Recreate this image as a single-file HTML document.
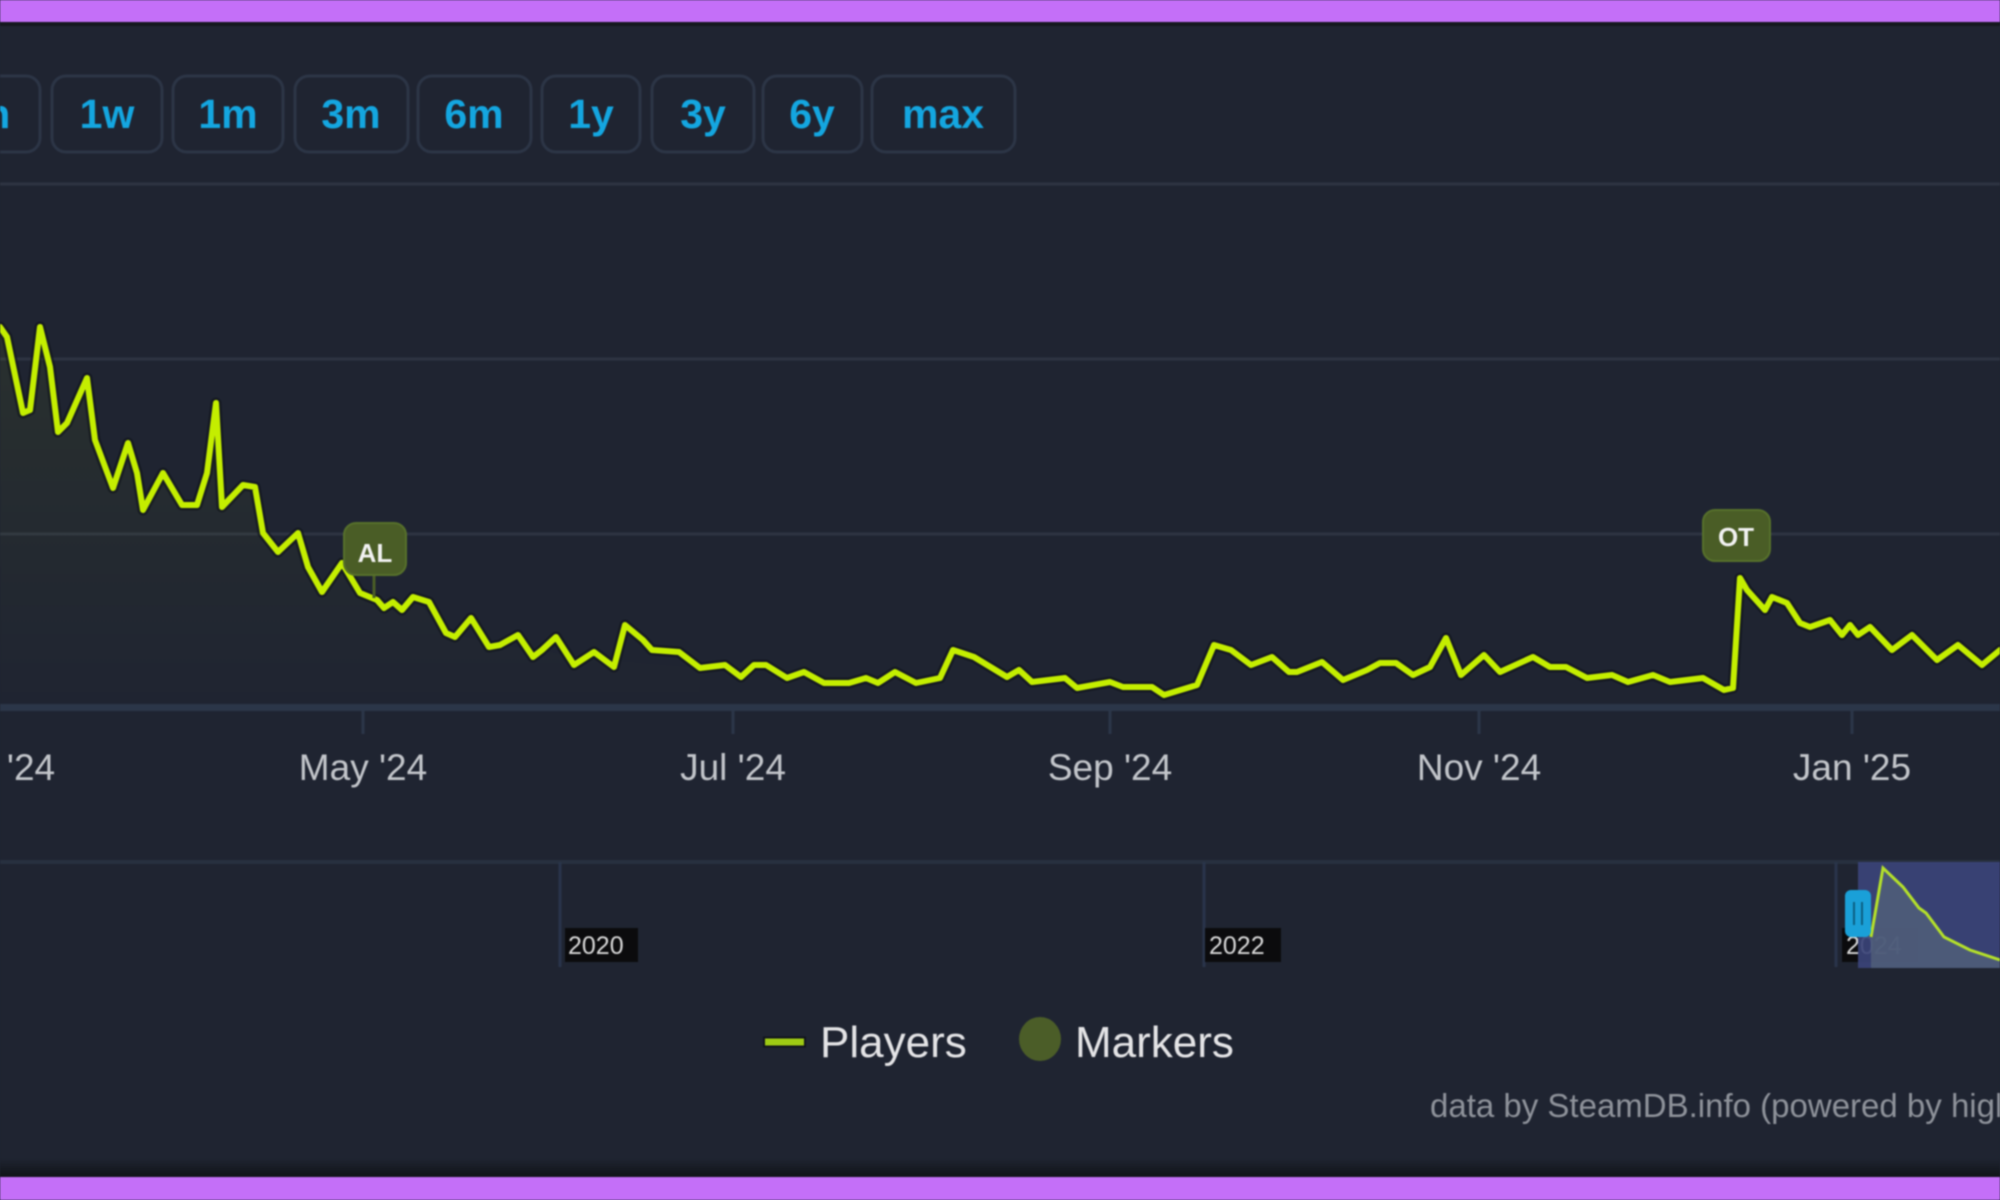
<!DOCTYPE html>
<html><head><meta charset="utf-8"><style>
html,body{margin:0;padding:0;background:#1f2431;}
svg{display:block;filter:blur(0.7px)}
text{font-family:"Liberation Sans",Arial,sans-serif}
</style></head><body>
<svg width="2000" height="1200" viewBox="0 0 2000 1200" xmlns="http://www.w3.org/2000/svg">
<defs>
<linearGradient id="af" x1="0" y1="0" x2="0" y2="1">
<stop offset="0" stop-color="#c4ee00" stop-opacity="0.06"/>
<stop offset="1" stop-color="#c4ee00" stop-opacity="0"/>
</linearGradient>
<linearGradient id="bot" x1="0" y1="0" x2="0" y2="1">
<stop offset="0" stop-color="#1f2431"/>
<stop offset="1" stop-color="#0f1216"/>
</linearGradient>
</defs>
<rect x="0" y="0" width="2000" height="1200" fill="#1f2431"/>
<rect x="0" y="0" width="2000" height="22" fill="#c46ff8"/>
<rect x="0" y="22" width="2000" height="4" fill="#14181e"/>
<rect x="0" y="1158" width="2000" height="20" fill="url(#bot)"/>
<rect x="0" y="1177" width="2000" height="23" fill="#c46ff8"/>

<g fill="#1f2431" stroke="#2c3546" stroke-width="3">
<rect x="-90" y="76" width="130" height="76" rx="14"/>
<rect x="52" y="76" width="110" height="76" rx="14"/>
<rect x="173" y="76" width="110" height="76" rx="14"/>
<rect x="295" y="76" width="113" height="76" rx="14"/>
<rect x="418" y="76" width="113" height="76" rx="14"/>
<rect x="542" y="76" width="98" height="76" rx="14"/>
<rect x="652" y="76" width="102" height="76" rx="14"/>
<rect x="763" y="76" width="99" height="76" rx="14"/>
<rect x="872" y="76" width="143" height="76" rx="14"/>
</g>
<g fill="#14a6e0" font-size="41" font-weight="bold" text-anchor="middle">
<text x="-25" y="128">48h</text>
<text x="107" y="128">1w</text>
<text x="228" y="128">1m</text>
<text x="351" y="128">3m</text>
<text x="474" y="128">6m</text>
<text x="591" y="128">1y</text>
<text x="703" y="128">3y</text>
<text x="812" y="128">6y</text>
<text x="943" y="128">max</text>
</g>

<g stroke="#2e3442" stroke-width="3">
<line x1="0" y1="184" x2="2000" y2="184"/>
<line x1="0" y1="359" x2="2000" y2="359"/>
<line x1="0" y1="534" x2="2000" y2="534"/>
</g>

<path fill="url(#af)" d="M0,327 L7,337 L23,413 L30,410 L40,327 L50,367 L58,432 L67,423 L87,378 L95,440 L113,488 L128,443 L137,473 L143,510 L163,473 L182,505 L197,505 L207,473 L216,403 L222,507 L243,485 L255,487 L263,533 L278,552 L298,533 L308,567 L322,592 L342,563 L360,593 L377,600 L393,602 L413,597 L446,633 L500,645 L600,660 L700,668 L700,707 L0,707 Z"/>

<rect x="0" y="704" width="2000" height="7" fill="#2b3649"/>
<g stroke="#2b3649" stroke-width="3">
<line x1="363" y1="711" x2="363" y2="734"/>
<line x1="733" y1="711" x2="733" y2="734"/>
<line x1="1110" y1="711" x2="1110" y2="734"/>
<line x1="1479" y1="711" x2="1479" y2="734"/>
<line x1="1852" y1="711" x2="1852" y2="734"/>
</g>
<g fill="#c2c5ca" font-size="37" text-anchor="middle">
<text x="-6" y="780">Mar '24</text>
<text x="363" y="780">May '24</text>
<text x="733" y="780">Jul '24</text>
<text x="1110" y="780">Sep '24</text>
<text x="1479" y="780">Nov '24</text>
<text x="1852" y="780">Jan '25</text>
</g>

<g fill="none" stroke-linejoin="round" stroke-linecap="round">
<polyline stroke="#0d1018" stroke-opacity="0.55" stroke-width="11" points="0,327 7,337 23,413 30,410 40,327 50,367 58,432 67,423 87,378 95,440 113,488 128,443 137,473 143,510 163,473 182,505 197,505 207,473 216,403 222,507 243,485 255,487 263,533 278,552 298,533 308,567 322,592 342,563 360,593 377,600 384,608 393,602 402,610 413,597 429,602 446,633 455,637 471,618 489,647 500,645 518,635 533,657 542,650 556,637 574,665 594,652 614,667 625,625 643,640 652,650 679,652 700,668 725,665 741,677 754,665 766,665 787,678 804,672 824,683 849,683 866,678 878,683 895,672 916,683 940,678 953,650 974,657 1007,677 1019,670 1032,682 1065,678 1077,688 1110,682 1123,687 1152,687 1164,695 1197,685 1214,645 1231,650 1251,665 1272,657 1289,672 1297,672 1322,662 1343,680 1367,670 1380,663 1396,663 1413,675 1430,667 1446,638 1461,675 1484,655 1500,672 1533,657 1550,667 1566,667 1587,678 1612,675 1628,682 1653,675 1670,682 1703,678 1724,690 1733,688 1740,578 1747,590 1765,610 1772,597 1787,603 1800,623 1810,627 1830,620 1842,635 1850,625 1858,635 1870,627 1892,650 1912,635 1937,660 1958,645 1982,665 2000,650"/>
<polyline stroke="#c4ee00" stroke-width="6" points="0,327 7,337 23,413 30,410 40,327 50,367 58,432 67,423 87,378 95,440 113,488 128,443 137,473 143,510 163,473 182,505 197,505 207,473 216,403 222,507 243,485 255,487 263,533 278,552 298,533 308,567 322,592 342,563 360,593 377,600 384,608 393,602 402,610 413,597 429,602 446,633 455,637 471,618 489,647 500,645 518,635 533,657 542,650 556,637 574,665 594,652 614,667 625,625 643,640 652,650 679,652 700,668 725,665 741,677 754,665 766,665 787,678 804,672 824,683 849,683 866,678 878,683 895,672 916,683 940,678 953,650 974,657 1007,677 1019,670 1032,682 1065,678 1077,688 1110,682 1123,687 1152,687 1164,695 1197,685 1214,645 1231,650 1251,665 1272,657 1289,672 1297,672 1322,662 1343,680 1367,670 1380,663 1396,663 1413,675 1430,667 1446,638 1461,675 1484,655 1500,672 1533,657 1550,667 1566,667 1587,678 1612,675 1628,682 1653,675 1670,682 1703,678 1724,690 1733,688 1740,578 1747,590 1765,610 1772,597 1787,603 1800,623 1810,627 1830,620 1842,635 1850,625 1858,635 1870,627 1892,650 1912,635 1937,660 1958,645 1982,665 2000,650"/>
</g>

<line x1="374" y1="574" x2="374" y2="598" stroke="#4a5d26" stroke-width="3"/>
<rect x="344" y="523" width="62" height="52" rx="12" fill="#4a5d26" stroke="#56702b" stroke-width="2"/>
<text x="375" y="562" fill="#f2f2f2" font-size="26" font-weight="bold" text-anchor="middle">AL</text>
<rect x="1703" y="510" width="67" height="51" rx="12" fill="#4a5d26" stroke="#56702b" stroke-width="2"/>
<text x="1736" y="546" fill="#f2f2f2" font-size="26" font-weight="bold" text-anchor="middle">OT</text>

<rect x="0" y="860" width="2000" height="4" fill="#27303f"/>
<g stroke="#29344a" stroke-width="3">
<line x1="560" y1="862" x2="560" y2="967"/>
<line x1="1204" y1="862" x2="1204" y2="967"/>
<line x1="1836" y1="862" x2="1836" y2="967"/>
</g>
<g font-size="25" fill="#d8d8d8">
<rect x="565" y="928" width="73" height="34" fill="#0b0b0d"/>
<text x="568" y="954">2020</text>
<rect x="1205" y="928" width="76" height="34" fill="#0b0b0d"/>
<text x="1209" y="954">2022</text>
<rect x="1842" y="928" width="76" height="34" fill="#0b0b0d"/>
<text x="1846" y="954">2024</text>
</g>
<rect x="1858" y="862" width="142" height="106" fill="#3b4478" fill-opacity="0.92"/>
<path d="M1871,937 L1883,868 L1903,887 L1919,908 L1926,913 L1944,937 L1970,950 L2000,960 L2000,968 L1871,968 Z" fill="#56657a" fill-opacity="0.7"/>
<polyline fill="none" stroke="#b4e02a" stroke-width="3" points="1871,937 1883,868 1903,887 1919,908 1926,913 1944,937 1970,950 2000,960"/>
<rect x="1845" y="890" width="26" height="47" rx="6" fill="#1aa0d8"/>
<line x1="1854" y1="902" x2="1854" y2="925" stroke="#0c5f82" stroke-width="2"/>
<line x1="1862" y1="902" x2="1862" y2="925" stroke="#0c5f82" stroke-width="2"/>

<line x1="763" y1="1042" x2="806" y2="1042" stroke="#10141c" stroke-width="11"/>
<line x1="765" y1="1042" x2="804" y2="1042" stroke="#9fcb14" stroke-width="7"/>
<text x="820" y="1057" fill="#e4e4e6" font-size="44">Players</text>
<ellipse cx="1040" cy="1039" rx="21" ry="22" fill="#4b5d28"/>
<text x="1075" y="1057" fill="#e4e4e6" font-size="44">Markers</text>

<text x="1430" y="1117" fill="#8e929a" font-size="33">data by SteamDB.info (powered by highcharts.com)</text>
</svg>
</body></html>
